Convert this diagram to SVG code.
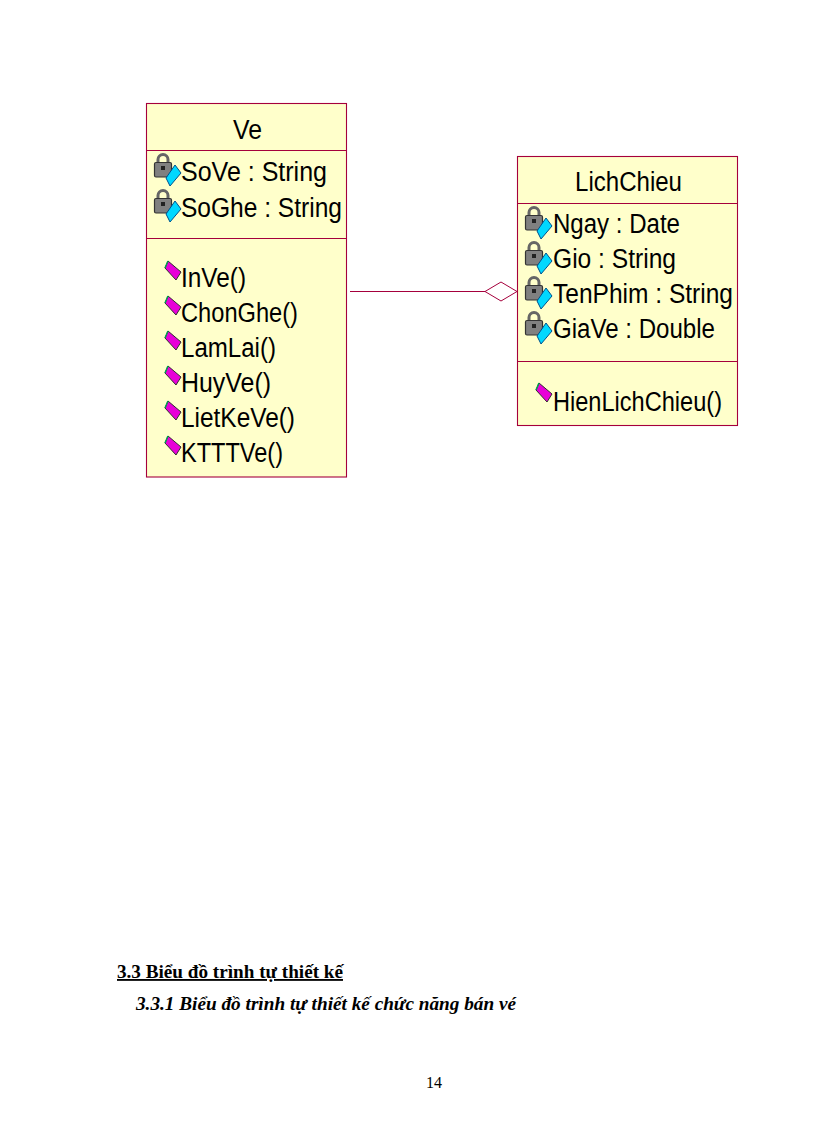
<svg xmlns="http://www.w3.org/2000/svg" width="816" height="1123" viewBox="0 0 816 1123">
<style>
.box{fill:#ffffcb;stroke:#a5003c;stroke-width:1.1}
.sep{stroke:#a5003c;stroke-width:1;fill:none}
.t{font-family:"Liberation Sans",Arial,sans-serif;font-size:27px;fill:#000}
.h{font-family:"Liberation Serif","Times New Roman",serif;font-size:18.500px;font-weight:bold;fill:#000}
</style>
<defs>
<g id="attr">
<path d="M-9-5v-3.500a5 5 0 0 1 10 0V-5" fill="none" stroke="#666" stroke-width="3"/>
<rect x="-12.500" y="-5.500" width="17" height="14.500" rx="1.500" fill="#808080" stroke="#333" stroke-width="1.200"/>
<rect x="-6" y="-2" width="4" height="4" fill="#222"/>
<path d="M8-3 L14 5 L3 18 L-1 10Z" fill="#00d8ff" stroke="#00508c" stroke-width="1"/>
</g>
<g id="op">
<path d="M-4-10 L9 1 L4 9 L-7-3Z" fill="#e800d8" stroke="#303030" stroke-width="1"/>
<path d="M-7-3 L-4-10" stroke="#00a050" stroke-width="1.500" fill="none"/>
</g>
</defs>
<g id="connectors">
<path d="M350 291.500H485" class="sep"/>
<path d="M485 291.500L501 282L517 291.500L501 301Z" fill="#fff" stroke="#a5003c" stroke-width="1"/>
</g>
<g id="node-ve">
<rect class="box" x="146.500" y="103.500" width="200" height="373.500"/>
<path class="sep" d="M146.500 150.500H346.500M146.500 238.500H346.500"/>
<text class="t" x="233" y="139" textLength="29" lengthAdjust="spacingAndGlyphs">Ve</text>
<use href="#attr" x="167" y="168"/><text class="t" x="181" y="181" textLength="146" lengthAdjust="spacingAndGlyphs">SoVe : String</text>
<use href="#attr" x="167" y="204"/><text class="t" x="181" y="217" textLength="161" lengthAdjust="spacingAndGlyphs">SoGhe : String</text>
<use href="#op" x="172" y="271"/><text class="t" x="181" y="287" textLength="65" lengthAdjust="spacingAndGlyphs">InVe()</text>
<use href="#op" x="172" y="306"/><text class="t" x="181" y="322" textLength="117" lengthAdjust="spacingAndGlyphs">ChonGhe()</text>
<use href="#op" x="172" y="341"/><text class="t" x="181" y="357" textLength="95" lengthAdjust="spacingAndGlyphs">LamLai()</text>
<use href="#op" x="172" y="376"/><text class="t" x="181" y="392" textLength="90" lengthAdjust="spacingAndGlyphs">HuyVe()</text>
<use href="#op" x="172" y="411"/><text class="t" x="181" y="427" textLength="114" lengthAdjust="spacingAndGlyphs">LietKeVe()</text>
<use href="#op" x="172" y="446"/><text class="t" x="181" y="462" textLength="102" lengthAdjust="spacingAndGlyphs">KTTTVe()</text>
</g>
<g id="node-lichchieu">
<rect class="box" x="517.500" y="156.500" width="220" height="269"/>
<path class="sep" d="M517.500 203.500H737.500M517.500 361.500H737.500"/>
<text class="t" x="575" y="191" textLength="107" lengthAdjust="spacingAndGlyphs">LichChieu</text>
<use href="#attr" x="538" y="221"/><text class="t" x="553" y="233" textLength="127" lengthAdjust="spacingAndGlyphs">Ngay : Date</text>
<use href="#attr" x="538" y="256"/><text class="t" x="553" y="268" textLength="123" lengthAdjust="spacingAndGlyphs">Gio : String</text>
<use href="#attr" x="538" y="291"/><text class="t" x="553" y="303" textLength="180" lengthAdjust="spacingAndGlyphs">TenPhim : String</text>
<use href="#attr" x="538" y="326"/><text class="t" x="553" y="338" textLength="162" lengthAdjust="spacingAndGlyphs">GiaVe : Double</text>
<use href="#op" x="543" y="393"/><text class="t" x="553" y="411" textLength="169" lengthAdjust="spacingAndGlyphs">HienLichChieu()</text>
</g>
<text class="h" x="117" y="978" text-decoration="underline" textLength="226" lengthAdjust="spacingAndGlyphs">3.3 Biểu đồ trình tự thiết kế</text>
<text class="h" x="136" y="1010" font-style="italic" textLength="380" lengthAdjust="spacingAndGlyphs">3.3.1 Biểu đồ trình tự thiết kế chức năng bán vé</text>
<text x="426" y="1088" font-family="Liberation Serif,serif" font-size="16" fill="#000">14</text>
</svg>
